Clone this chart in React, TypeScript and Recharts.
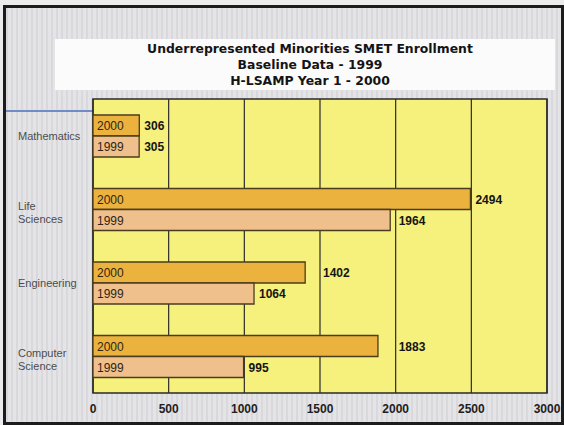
import React from "react";
import {
  BarChart,
  Bar,
  XAxis,
  YAxis,
  CartesianGrid,
  LabelList,
  ReferenceArea,
} from "recharts";

const categories = ["Mathematics", "Life Sciences", "Engineering", "Computer Science"];
const enroll2000 = [306, 2494, 1402, 1883];
const enroll1999 = [305, 1964, 1064, 995];
const seriesYears = ["2000", "1999"];
const xTicks = [0, 500, 1000, 1500, 2000, 2500, 3000];
const titleLines = [
  "Underrepresented Minorities SMET Enrollment",
  "Baseline Data - 1999",
  "H-LSAMP Year 1 - 2000",
];

const data = categories.map((c, i) => ({
  category: c,
  y2000: enroll2000[i],
  y1999: enroll1999[i],
}));

const CategoryTick = (props: any) => {
  const { y, payload } = props;
  const words = String(payload.value).split(" ");
  const offsets = words.length > 1 ? [-3, 10] : [0];
  return (
    <g>
      {words.map((w, i) => (
        <text
          key={i}
          x={18}
          y={y + offsets[i]}
          dominantBaseline="central"
          textAnchor="start"
          fontFamily="Liberation Sans, Arial, sans-serif"
          fontSize={11}
          fill="#4c4c4c"
        >
          {w}
        </text>
      ))}
    </g>
  );
};

const makeInside = (label: string) => (props: any) => {
  const { x, y, height } = props;
  return (
    <text
      x={x + 4}
      y={y + height / 2 + 0.5}
      dominantBaseline="central"
      fontFamily="Liberation Sans, Arial, sans-serif"
      fontSize={12}
      fill="#2e2516"
    >
      {label}
    </text>
  );
};

// value label placed right of the bar, nudged past a gridline it would cross
const ValueLabel = (props: any) => {
  const { x, y, width, height, value } = props;
  const v = Number(value);
  const pxPerUnit = v ? width / v : 0;
  const text = String(value);
  const textW = text.length * 6.7;
  let start = x + width + 5;
  for (const t of xTicks) {
    const gx = x + t * pxPerUnit;
    if (gx >= start - 2 && gx <= start + textW) {
      start = gx + 3;
    }
  }
  return (
    <text
      x={start}
      y={y + height / 2 + 0.5}
      dominantBaseline="central"
      fontFamily="Liberation Sans, Arial, sans-serif"
      fontSize={12}
      fontWeight="bold"
      fill="#141414"
    >
      {text}
    </text>
  );
};

export default function App() {
  return (
    <div
      style={{
        position: "absolute",
        left: 0,
        top: 0,
        width: 564,
        height: 425,
        background: "#ececec",
        overflow: "hidden",
      }}
    >
      <div
        style={{
          position: "absolute",
          left: 3,
          top: 5,
          width: 561,
          height: 420,
          boxSizing: "border-box",
          border: "3px solid #1c1c1c",
          background:
            "repeating-linear-gradient(90deg, #d9d9dd 0px, #d9d9dd 2px, #e4e4e7 2px, #e4e4e7 5px)",
        }}
      />
      <div
        style={{
          position: "absolute",
          left: 55,
          top: 39,
          width: 500,
          height: 51,
          background: "#fbfbfb",
        }}
      />
      <div
        style={{
          position: "absolute",
          left: 110,
          top: 41,
          width: 400,
          textAlign: "center",
          fontFamily: "DejaVu Sans, Verdana, sans-serif",
          fontWeight: "bold",
          fontSize: 12.4,
          lineHeight: "16px",
          color: "#141414",
        }}
      >
        {titleLines.map((t, i) => (
          <div key={i}>{t}</div>
        ))}
      </div>
      <div
        style={{
          position: "absolute",
          left: 6,
          top: 110,
          width: 87,
          height: 2,
          background: "#6f8cc4",
        }}
      />
      <div style={{ position: "absolute", left: 0, top: 0 }}>
        <BarChart
          width={564}
          height={425}
          layout="vertical"
          data={data}
          margin={{ top: 99, right: 17, bottom: 2, left: 0 }}
          barSize={21}
          barGap={0}
        >
          <CartesianGrid
            horizontal={false}
            vertical={true}
            stroke="#2a2a2a"
            strokeWidth={1.2}
            fill="#f6f07c"
            fillOpacity={1}
          />
          <XAxis
            type="number"
            domain={[0, 3000]}
            ticks={xTicks}
            axisLine={false}
            tickLine={false}
            tickSize={0}
            tickMargin={11}
            height={30}
            tick={{
              fill: "#1e1e1e",
              fontSize: 12,
              fontWeight: "bold",
              fontFamily: "Liberation Sans, Arial, sans-serif",
            }}
          />
          <YAxis
            type="category"
            dataKey="category"
            width={93}
            axisLine={false}
            tickLine={false}
            tick={<CategoryTick />}
          />
          <ReferenceArea
            x1={0}
            x2={3000}
            fill="none"
            stroke="#2a2a2a"
            strokeWidth={1.5}
            ifOverflow="extendDomain"
          />
          <Bar
            dataKey="y2000"
            fill="#ecb23e"
            stroke="#4a3c1e"
            strokeWidth={1.3}
            isAnimationActive={false}
          >
            <LabelList content={makeInside(seriesYears[0])} />
            <LabelList dataKey="y2000" content={ValueLabel} />
          </Bar>
          <Bar
            dataKey="y1999"
            fill="#f0c08c"
            stroke="#4a3c1e"
            strokeWidth={1.3}
            isAnimationActive={false}
          >
            <LabelList content={makeInside(seriesYears[1])} />
            <LabelList dataKey="y1999" content={ValueLabel} />
          </Bar>
        </BarChart>
      </div>
    </div>
  );
}
